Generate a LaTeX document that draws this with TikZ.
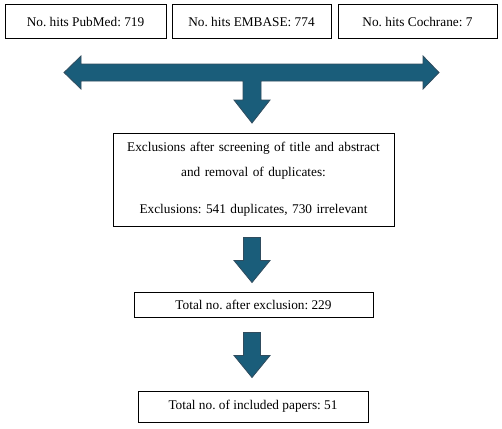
\documentclass[tikz,border=0pt]{standalone}
\usepackage{fontspec}
\setmainfont{Liberation Serif}
\usetikzlibrary{positioning,calc}
\definecolor{arrowblue}{RGB}{26,93,122}
\definecolor{arrowedge}{RGB}{48,76,94}

\tikzset{
  hitbox/.style={draw=black, line width=1pt, minimum height=34pt, inner sep=2pt},
  flowbox/.style={draw=black, line width=1pt, inner sep=2pt, align=center},
  blockarrow/.style={fill=arrowblue, draw=arrowedge, line width=0.8pt, line join=miter},
  downblock/.pic={
    \draw[blockarrow] (-8.5,0) -- (8.5,0) -- (8.5,23) -- (18,23) -- (0,45)
      -- (-18,23) -- (-8.5,23) -- cycle;
  }
}

\begin{document}
\frenchspacing
\begin{tikzpicture}[x=1pt, y=-1pt, font=\fontsize{13.3}{16}\selectfont]
\useasboundingbox (0,0) rectangle (502,428);

% Database hits
\node[hitbox, minimum width=161pt] (pubmed) at (85.5,22) {No. hits PubMed: 719};
\node[hitbox, minimum width=159pt] (embase) at (251.5,22) {No. hits EMBASE: 774};
\node[hitbox, minimum width=159pt] (cochrane) at (417.5,22) {No. hits Cochrane: 7};

% Merging arrow
\draw[blockarrow] (64,72.5) -- (81,56) -- (81,64) -- (423,64) -- (423,56)
  -- (439,72.5) -- (423,89) -- (423,81) -- (261,81) -- (261,100) -- (270,100)
  -- (252,123) -- (234,100) -- (243,100) -- (243,81) -- (81,81) -- (81,89) -- cycle;

% Screening
\node[flowbox, minimum width=281pt, minimum height=93pt, text width=270pt,
  font=\fontsize{13.3}{25}\selectfont] (excl) at (253.5,179.5)
  {Exclusions after screening of title and abstract\\
   and removal of duplicates:\\[12pt]
   Exclusions: 541 duplicates, 730 irrelevant};

\node[flowbox, minimum width=239pt, minimum height=25pt] (after) at (253.5,304.5)
  {Total no. after exclusion: 229};
\node[flowbox, minimum width=230pt, minimum height=31pt] (incl) at (253,406.5)
  {Total no. of included papers: 51};

% Step arrows
\pic at ($(excl.south)+(-1.5,11)$) {downblock};
\pic at ($(after.south)+(-1.5,15)$) {downblock};

\end{tikzpicture}
\end{document}
